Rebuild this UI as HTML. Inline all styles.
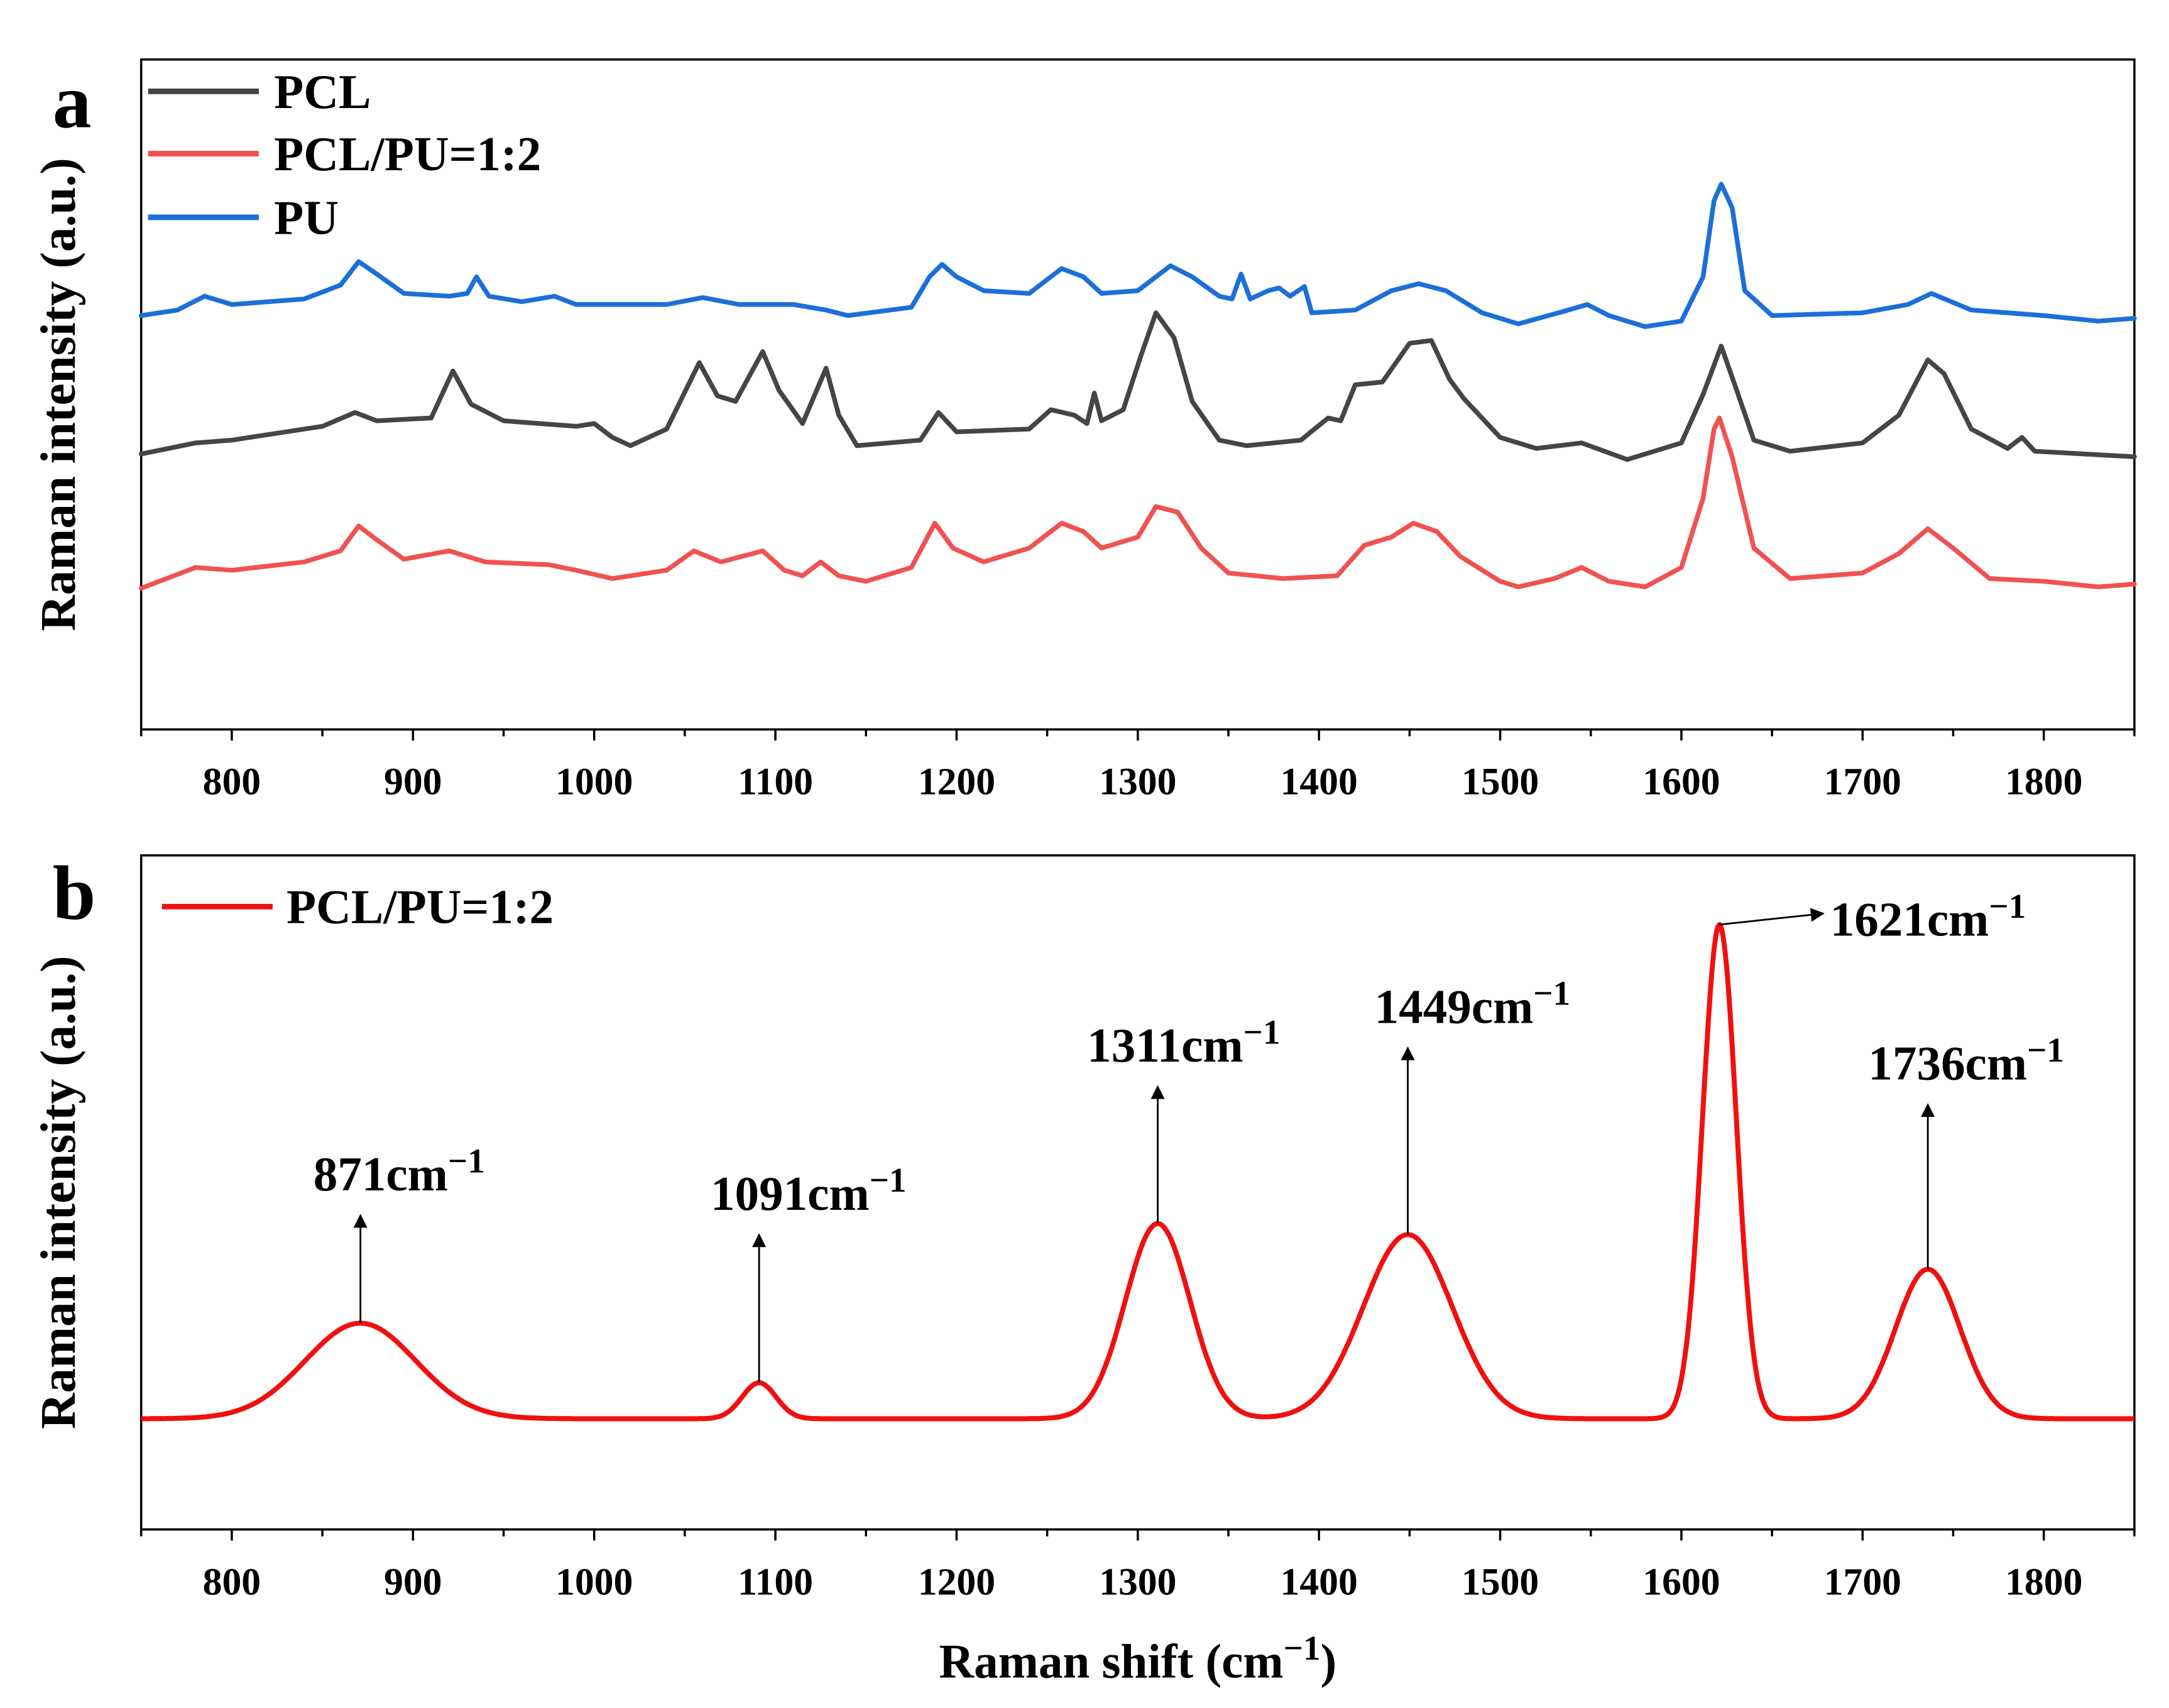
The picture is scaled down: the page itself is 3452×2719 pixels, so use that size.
<!DOCTYPE html>
<html><head><meta charset="utf-8"><style>html,body{margin:0;padding:0;background:#fff}svg{display:block}text{font-family:"Liberation Serif",serif;font-weight:bold;fill:#000}</style></head>
<body>
<svg id="chart" width="3452" height="2719" viewBox="0 0 1567 1234" preserveAspectRatio="none" xmlns="http://www.w3.org/2000/svg">
<g id="pa"></g>
<g id="pb"></g>
</svg>
<script>
// ---- data ----
const xTicks = [800,900,1000,1100,1200,1300,1400,1500,1600,1700,1800];
const pcl_x = [750,780,800,850,868,880,910,922,932,950,990,1000,1010,1020,1040,1058,1068,1078,1093,1102,1115,1128,1135,1145,1180,1190,1200,1240,1252,1265,1272,1276,1280,1292,1302,1310,1320,1330,1345,1360,1390,1405,1412,1420,1435,1450,1462,1472,1480,1500,1520,1545,1570,1600,1612,1622,1630,1640,1660,1700,1720,1736,1745,1760,1780,1788,1795,1850];
const pcl_y = [199,207,209,219,229,223,225,259,235,223,219,221,211,205,217,265,241,237,273,245,221,261,227,205,209,229,215,217,231,227,221,243,223,231,271,301,283,237,209,205,209,225,223,249,251,279,281,253,239,211,203,207,195,207,242,277,247,209,201,207,227,267,257,217,203,211,201,197];
const blend_x = [750,780,800,840,860,870,880,895,920,940,975,990,1010,1040,1055,1070,1093,1105,1115,1125,1135,1150,1175,1188,1198,1215,1240,1258,1270,1280,1300,1310,1322,1335,1350,1380,1410,1425,1440,1452,1465,1478,1500,1510,1530,1545,1560,1580,1600,1612,1618,1621,1628,1640,1660,1700,1720,1736,1750,1770,1800,1830,1850];
const blend_y = [102,117,115,121,129,147,137,123,129,121,119,115,109,115,129,121,129,115,111,121,111,107,117,149,131,121,131,149,143,131,139,161,157,131,113,109,111,133,139,149,143,125,107,103,109,117,107,103,117,167,217,225,197,131,109,113,127,145,131,109,107,103,105];
const pu_x = [750,770,785,800,840,860,870,880,895,920,930,935,942,960,978,990,1040,1060,1080,1110,1128,1140,1175,1185,1192,1200,1215,1240,1258,1270,1280,1300,1318,1330,1345,1352,1357,1362,1372,1378,1384,1392,1396,1420,1440,1455,1470,1490,1510,1535,1548,1560,1580,1600,1612,1618,1622,1628,1635,1650,1700,1725,1738,1760,1800,1830,1850];
const pu_y = [299,303,313,307,311,321,338,329,315,313,315,327,313,309,313,307,307,312,307,307,303,299,305,327,336,327,317,315,333,327,315,317,335,327,313,311,329,311,317,319,313,320,301,303,317,322,317,301,293,302,307,299,291,295,327,382,394,377,317,299,301,307,315,303,299,295,297];
// panel b peak parameters (center, height, FWHM)
const peak_c = [871,1091,1311,1449,1621,1736];
const peak_h = [69,26,141,133,357,108];
const peak_w = [72,22,42,58,22,42];
const peak_labels = ["871","1091","1311","1449","1621","1736"];

const NS="http://www.w3.org/2000/svg";
function mk(parent,tag,attrs,txt){const e=document.createElementNS(NS,tag);for(const k in attrs)e.setAttribute(k,attrs[k]);if(txt!==undefined)e.textContent=txt;parent.appendChild(e);return e;}
const X0=102,X1=1542;
function xs(v){return X0+(v-750)/(1100)*(X1-X0);}
const A={top:43,bot:527}, B={top:618,bot:1105};
function ya(v){return A.bot-v;}
function yb(v){return B.bot-80-v;}
const pa=document.getElementById('pa'), pb=document.getElementById('pb'), svg=document.getElementById('chart');

function axes(g,P,name){
  const f=mk(g,'rect',{x:X0,y:P.top,width:X1-X0,height:P.bot-P.top,fill:'none',stroke:'#000','stroke-width':1.6});
   
  for(let v=750;v<=1850;v+=50){
    const major=v%100===0;
    const t=mk(g,'line',{x1:xs(v),x2:xs(v),y1:P.bot,y2:P.bot+(major?8:5),stroke:'#000','stroke-width':1.6});
     
  }
  xTicks.forEach(v=>{
    const t=mk(g,'text',{x:xs(v),y:P.bot+47,'text-anchor':'middle','font-size':28},String(v));
     
  });
  const yt=mk(g,'text',{x:0,y:0,'text-anchor':'middle','font-size':36,transform:`translate(54,${(P.top+P.bot)/2}) rotate(-90)`},'Raman intensity (a.u.)');
   
}
axes(pa,A,'panel-a'); axes(pb,B,'panel-b');

function series(g,xa,yaArr,color,name){
  const pts=xa.map((x,i)=>xs(x).toFixed(1)+','+ya(yaArr[i]).toFixed(1)).join(' ');
  const p=mk(g,'polyline',{points:pts,fill:'none',stroke:color,'stroke-width':3.4,'stroke-linejoin':'round','stroke-linecap':'round'});
   
}
series(pa,pu_x,pu_y,'#1c6fd8','pu-line');
series(pa,pcl_x,pcl_y,'#454545','pcl-line');
series(pa,blend_x,blend_y,'#f05252','pcl-pu-blend-line');

const leg=[['PCL','#454545',66],['PCL/PU=1:2','#f05252',111],['PU','#1c6fd8',157]];
leg.forEach(([l,c,y])=>{
  const g=mk(pa,'g',{});
   
  mk(g,'line',{x1:107,x2:187,y1:y,y2:y,stroke:c,'stroke-width':4});
  mk(g,'text',{x:198,y:y+12,'font-size':35},l);
});
const la=mk(pa,'text',{x:38,y:92,'font-size':56},'a');
 
const lb=mk(pb,'text',{x:38,y:664,'font-size':56},'b');
 

// panel b curve
const bx=[],by=[];
for(let v=750;v<=1850;v+=1){
  let s=0;
  for(let i=0;i<peak_c.length;i++){const sig=peak_w[i]/2.3548;s+=peak_h[i]*Math.exp(-Math.pow(v-peak_c[i],2)/(2*sig*sig));}
  bx.push(xs(v).toFixed(1)); by.push(yb(s).toFixed(1));
}
const cb=mk(pb,'polyline',{points:bx.map((x,i)=>x+','+by[i]).join(' '),fill:'none',stroke:'#f01010','stroke-width':3.6,'stroke-linejoin':'round'});
 
const lgb=mk(pb,'g',{});
 
mk(lgb,'line',{x1:117,x2:197,y1:655,y2:655,stroke:'#f01010','stroke-width':4});
mk(lgb,'text',{x:207,y:667,'font-size':35},'PCL/PU=1:2');

const defs=mk(svg,'defs',{});
const mkr=mk(defs,'marker',{id:'ah',markerWidth:10,markerHeight:10,refX:9,refY:5,orient:'auto',markerUnits:'userSpaceOnUse'});
mk(mkr,'path',{d:'M0,0 L10,5 L0,10 z',fill:'#000'});
const arrowLen=[78,107,99,135,0,119];
const labelOff=[-34,-35,-51,-24,0,-43];
peak_c.forEach((c,i)=>{
  const g=mk(pb,'g',{});
   
  const x=xs(c), y=yb(peak_h[i]);
  let tx,ty;
  if(arrowLen[i]===0){
    mk(g,'line',{x1:x,y1:y,x2:x+75,y2:y-8,stroke:'#000','stroke-width':1.3,'marker-end':'url(#ah)'});
    tx=x+80; ty=y+8;
  } else {
    mk(g,'line',{x1:x,y1:y,x2:x,y2:y-arrowLen[i],stroke:'#000','stroke-width':1.3,'marker-end':'url(#ah)'});
    tx=x+labelOff[i]; ty=y-arrowLen[i]-18;
  }
  const t=mk(g,'text',{x:tx,y:ty,'font-size':35},peak_labels[i]+'cm');
  mk(t,'tspan',{dy:-13,'font-size':25},'−1');
});
const xt=mk(svg,'text',{x:822,y:1212,'text-anchor':'middle','font-size':35},'Raman shift (cm');
mk(xt,'tspan',{dy:-13,'font-size':25},'−1');
mk(xt,'tspan',{dy:13},')');
 
</script>
</body></html>
